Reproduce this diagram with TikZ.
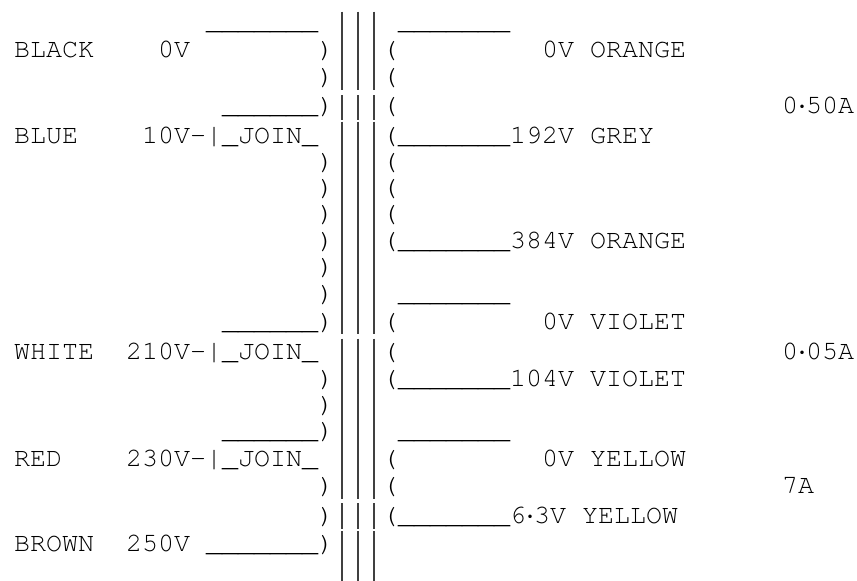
\documentclass[tikz,border=0pt]{standalone}
\usepackage{fontspec}
\setmonofont{TeX Gyre Cursor}
\newcommand\halfdot{\makebox[8pt]{·}}
\begin{document}
\begin{tikzpicture}[
    x=1pt, y=-1pt,
    txt/.style={font=\ttfamily\fontsize{26.67}{30}\selectfont, inner sep=0pt, anchor=base west},
    core/.style={black!75, line width=1.6pt},
]

\def\cw{16}   % character pitch
\def\xo{14}   % left edge of column 0
\def\base{7}  % cap centre to baseline

\useasboundingbox (0,0) rectangle (857,581);

% rows
\foreach \r/\y in {0/22, 1/50.5, 2/77, 3/106, 4/136, 5/162, 6/188, 7/214, 8/241, 9/267, 10/294,
                   11/322.5, 12/352.5, 13/379, 14/405, 15/431, 16/459, 17/486, 18/516, 19/544, 20/571}
    \coordinate (row\r) at (\xo, \y+\base);

% ===== Primary =====
\node[txt] (black) at (row1) {BLACK};
\node[txt] (v0) at ([xshift=9*\cw]row1) {0V};
\node[txt] (blue) at (row4) {BLUE};
\node[txt] (v10) at ([xshift=8*\cw]row4) {10V-|\_JOIN\_};
\node[txt] (white) at (row12) {WHITE};
\node[txt] (v210) at ([xshift=7*\cw]row12) {210V-|\_JOIN\_};
\node[txt] (red) at (row16) {RED};
\node[txt] (v230) at ([xshift=7*\cw]row16) {230V-|\_JOIN\_};
\node[txt] (brown) at (row19) {BROWN};
\node[txt] (v250) at ([xshift=7*\cw]row19) {250V};

% lead lines
\foreach \r/\c/\s in {0/12/\_\_\_\_\_\_\_, 3/13/\_\_\_\_\_\_, 11/13/\_\_\_\_\_\_,
                      15/13/\_\_\_\_\_\_, 19/12/\_\_\_\_\_\_\_}
    \node[txt] (lead\r) at ([xshift=\c*\cw]row\r) {\s};

% turns
\foreach \r in {1,2,3,5,6,7,8,9,10,11,13,14,15,17,18,19}
    \node[txt] (pl\r) at ([xshift=19*\cw]row\r) {)};
\foreach \r in {1,...,8,11,12,13,16,17,18}
    \node[txt] (pr\r) at ([xshift=23*\cw]row\r) {(};

% ===== Core =====
\foreach \c in {20,21,22} {
    \foreach \a/\b in {11.7/90, 95/120, 121.7/334.3, 338.7/499.3, 503.3/529.3, 531/581}
        \draw[core] (\xo+\c*\cw+8, \a) -- (\xo+\c*\cw+8, \b);
}

% ===== Secondaries =====
\foreach \r in {0,10,15}
    \node[txt] (top\r) at ([xshift=24*\cw]row\r) {\_\_\_\_\_\_\_};
\node[txt] (orange0) at ([xshift=33*\cw]row1) {0V ORANGE};
\node[txt] (grey) at ([xshift=24*\cw]row4) {\_\_\_\_\_\_\_192V GREY};
\node[txt] (orange384) at ([xshift=24*\cw]row8) {\_\_\_\_\_\_\_384V ORANGE};
\node[txt] (violet0) at ([xshift=33*\cw]row11) {0V VIOLET};
\node[txt] (violet104) at ([xshift=24*\cw]row13) {\_\_\_\_\_\_\_104V VIOLET};
\node[txt] (yellow0) at ([xshift=33*\cw]row16) {0V YELLOW};
\node[txt] (yellow63) at ([xshift=24*\cw]row18) {\_\_\_\_\_\_\_6\halfdot 3V YELLOW};

% currents
\node[txt] (amp1) at ([xshift=48*\cw]row3) {0\halfdot 50A};
\node[txt] (amp2) at ([xshift=48*\cw]row12) {0\halfdot 05A};
\node[txt] (amp3) at ([xshift=48*\cw]row17) {7A};

\end{tikzpicture}
\end{document}
